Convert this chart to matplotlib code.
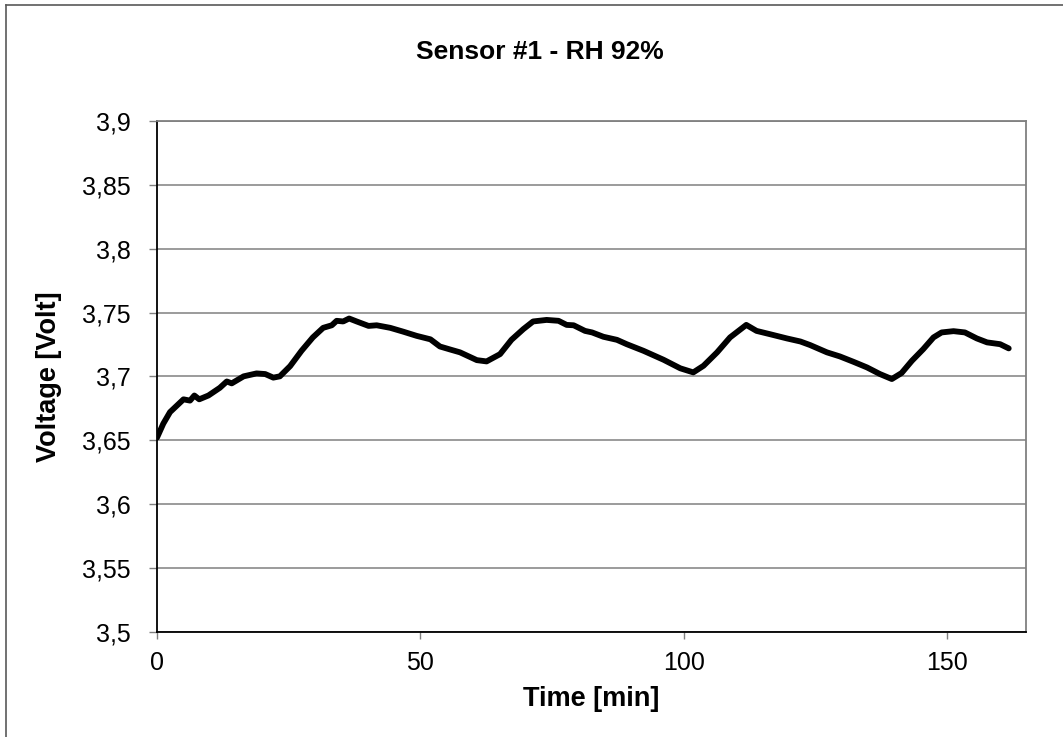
import matplotlib
matplotlib.use('Agg')
import matplotlib.pyplot as plt
from matplotlib.lines import Line2D
from matplotlib.ticker import FuncFormatter, MultipleLocator

plt.rcParams['font.family'] = ['Liberation Sans', 'DejaVu Sans']

# Traced points: time in minutes, sensor voltage in volts
time_min = [0, 1.2, 2.47, 5.03, 6.27, 7.09, 8.01, 9.76, 11.92, 13.25, 14.18,
            16.44, 18.9, 20.54, 22.08, 23.32, 25.27, 27.43, 29.58, 31.54,
            33.18, 34.1, 35.34, 36.47, 37.9, 40.16, 41.7, 44.27, 46.74,
            49.3, 51.9, 53.7, 55.67, 57.52, 60.71, 62.56, 65.12, 67.28,
            69.54, 71.39, 73.96, 76.22, 77.76, 79.09, 81.25, 82.59, 84.74,
            87.31, 89.16, 92.35, 96.15, 99.33, 101.8, 103.75, 106.32,
            108.78, 111.86, 113.81, 116.38, 119.57, 122.13, 123.98, 127.17,
            129.63, 132.2, 134.77, 137.23, 139.49, 141.34, 143.3, 145.45,
            147.4, 148.94, 151.2, 153.36, 155.62, 157.57, 160.04, 161.68]
voltage = [3.652, 3.663, 3.672, 3.682, 3.681, 3.685, 3.682, 3.685, 3.691,
           3.696, 3.6945, 3.700, 3.7023, 3.7018, 3.699, 3.700, 3.708, 3.720,
           3.7305, 3.738, 3.740, 3.7435, 3.743, 3.7453, 3.743, 3.7395, 3.740,
           3.738, 3.735, 3.7317, 3.729, 3.7234, 3.721, 3.7188, 3.7127,
           3.7117, 3.7174, 3.7286, 3.737, 3.743, 3.7442, 3.7435, 3.7403,
           3.740, 3.7356, 3.7344, 3.731, 3.7286, 3.7252, 3.720, 3.713,
           3.7063, 3.7031, 3.7083, 3.7188, 3.7305, 3.7403, 3.7356, 3.733,
           3.7297, 3.7273, 3.7245, 3.7188, 3.7156, 3.7114, 3.707, 3.7018,
           3.6979, 3.7026, 3.7122, 3.7213, 3.7305, 3.7344, 3.7354, 3.7344,
           3.7297, 3.7266, 3.7252, 3.7219]


def comma(v, pos):
    return f'{v:g}'.replace('.', ',')


fig = plt.figure(figsize=(10.63, 7.37), dpi=100)
fig.patch.set_facecolor('white')
ax = fig.add_axes([0.1477, 0.1429, 0.8177, 0.6929])

ax.plot(time_min, voltage, color='black', linewidth=4.2,
        solid_joinstyle='round', solid_capstyle='round', zorder=3)

ax.set_xlim(0, 165)
ax.set_ylim(3.5, 3.9)
ax.xaxis.set_major_locator(MultipleLocator(50))
ax.yaxis.set_major_locator(MultipleLocator(0.05))
ax.yaxis.set_major_formatter(FuncFormatter(comma))
ax.xaxis.set_major_formatter(FuncFormatter(comma))

ax.grid(True, axis='y', color='#808080', linewidth=1.1)
ax.set_axisbelow(True)

for side in ('top', 'right'):
    ax.spines[side].set_color('#808080')
    ax.spines[side].set_linewidth(1.3)
for side in ('left', 'bottom'):
    ax.spines[side].set_color('black')
    ax.spines[side].set_linewidth(1.3)

ax.tick_params(axis='y', direction='out', length=6, width=1, color='#808080',
               pad=13, labelsize=18)
ax.tick_params(axis='x', direction='out', length=5, width=1, color='#808080',
               pad=9, labelsize=18)

ax.set_xlabel('Time [min]', fontsize=19.5, fontweight='bold', labelpad=8)
ax.set_ylabel('Voltage [Volt]', fontsize=19.5, fontweight='bold', labelpad=14)
fig.text(540 / 1063, 1 - 52 / 737, 'Sensor #1 - RH 92%', fontsize=19,
         fontweight='bold', ha='center', va='center')

# chart-area border (left and top edges only visible)
bx, by = 6 / 1063, 1 - 5 / 737
fig.add_artist(Line2D([bx, bx], [0, by], color='#595959', linewidth=1.2,
                      transform=fig.transFigure))
fig.add_artist(Line2D([bx, 1], [by, by], color='#595959', linewidth=1.2,
                      transform=fig.transFigure))

plt.savefig('out.png', dpi=100, facecolor='white')
plt.close()
